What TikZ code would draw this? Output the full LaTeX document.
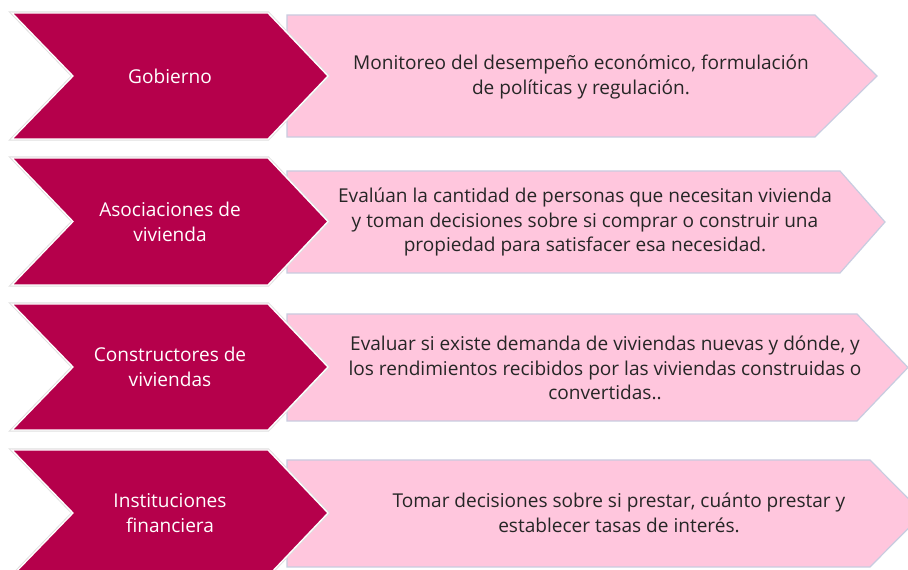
\documentclass[tikz,border=0pt]{standalone}
\usepackage{fontspec}
\setmainfont{Open Sans}
\usetikzlibrary{positioning}

\definecolor{crimson}{RGB}{181,0,75}
\definecolor{pinkband}{RGB}{255,198,221}
\definecolor{lavender}{RGB}{200,204,224}
\definecolor{darktext}{RGB}{38,38,38}

\begin{document}
\begin{tikzpicture}[x=0.75pt, y=-0.75pt,
halo/.style={draw=gray!25, line width=2.4pt, line join=miter},
chev/.style={fill=crimson, draw=white, line width=1pt},
band/.style={fill=pinkband, draw=lavender, line width=0.9pt},
lab/.style={text=white, align=center, font=\fontsize{14.3}{18.6}\selectfont},
desc/.style={text=darktext, align=center, font=\fontsize{14.3}{18.6}\selectfont}]
%================================================================
% Frame
\clip (0,0) rectangle (908,570);
\fill[white] (0,0) rectangle (908,570);

%================================================================
% Pink bands
% --------------------------------
% top/bottom/corner/tip
\foreach \t/\b/\c/\p in {15/137/815/877, 171/273/840/885, 314/421/857/908, 460/567/870/923}{
  \pgfmathsetmacro{\m}{(\t+\b)/2}
  \draw[band] (287,\t) -- (\c,\t) -- (\p,\m) -- (\c,\b) -- (287,\b) -- cycle;
}

%================================================================
% Chevrons
% --------------------------------
\foreach \t/\b in {13/139, 158/285, 304/430, 450/576}{
  \pgfmathsetmacro{\m}{(\t+\b)/2}
  \draw[halo] (12,\t) -- (268,\t) -- (328,\m) -- (268,\b) -- (12,\b) -- (73,\m) -- cycle;
  \draw[chev] (12,\t) -- (268,\t) -- (328,\m) -- (268,\b) -- (12,\b) -- (73,\m) -- cycle;
}

%================================================================
% Labels
\node[lab] (c1) at (170,76) {Gobierno};
\node[lab] (c2) at (170,222) {Asociaciones de\\vivienda};
\node[lab] (c3) at (170,367) {Constructores de\\viviendas};
\node[lab] (c4) at (170,513) {Instituciones\\financiera};

%================================================================
% Descriptions
\node[desc] (t1) at (581,77) {Monitoreo del desempeño económico, formulación\\de políticas y regulación.};
\node[desc] (t2) at (585,222) {Evalúan la cantidad de personas que necesitan vivienda\\y toman decisiones sobre si comprar o construir una\\propiedad para satisfacer esa necesidad.};
\node[desc] (t3) at (605,368) {Evaluar si existe demanda de viviendas nuevas y dónde, y\\los rendimientos recibidos por las viviendas construidas o\\convertidas..};
\node[desc] (t4) at (619,513) {Tomar decisiones sobre si prestar, cuánto prestar y\\establecer tasas de interés.};

%================================================================
\end{tikzpicture}
\end{document}
